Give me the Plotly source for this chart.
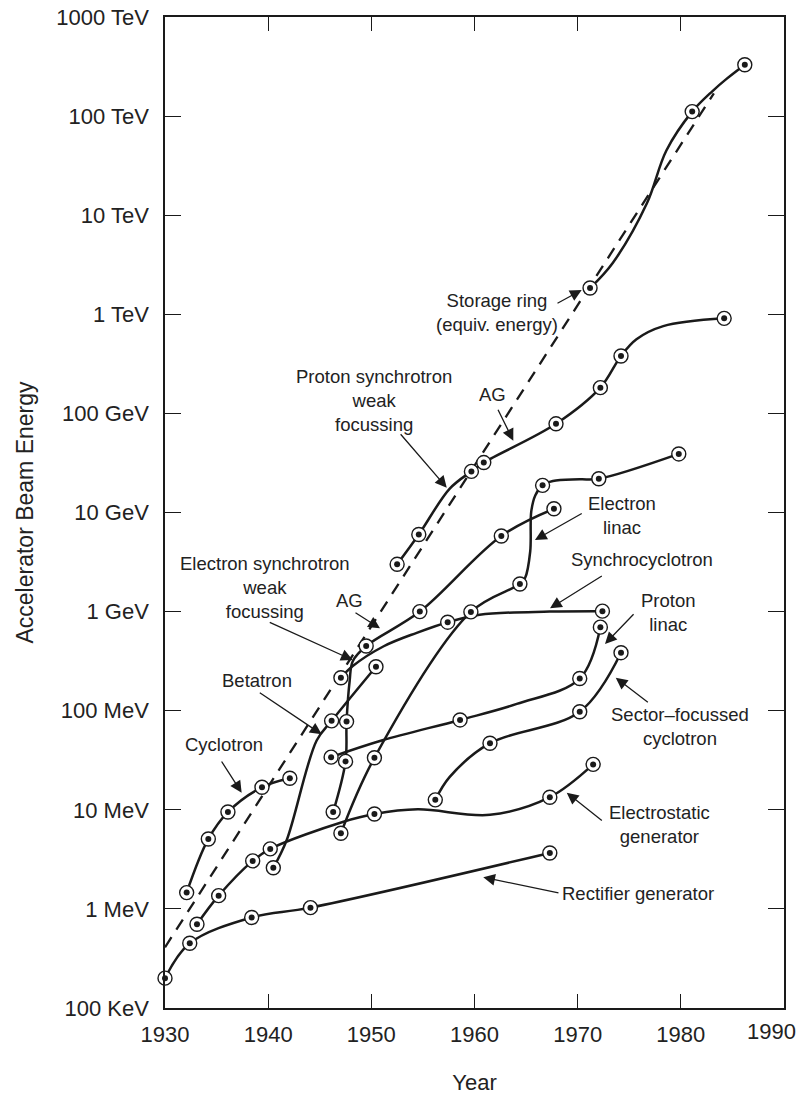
import plotly.graph_objects as go

# ---------------- data (year, beam energy in MeV) ----------------
# Marked points (circles) per accelerator type
rect_year = [1930.0, 1932.4, 1938.4, 1944.1, 1967.3]
rect_mev = [0.2, 0.45, 0.82, 1.03, 3.67]

estat_year = [1933.1, 1935.2, 1938.5, 1940.2, 1950.3, 1967.3, 1971.5]
estat_mev = [0.70, 1.36, 3.05, 4.03, 9.06, 13.4, 28.7]
estat_path_year = [1933.1, 1935.2, 1938.5, 1940.2, 1947.3, 1950.3, 1954.5, 1961.5, 1967.3, 1971.5]
estat_path_mev = [0.70, 1.36, 3.05, 4.03, 7.57, 9.06, 10.1, 8.9, 13.4, 28.7]

cyc_year = [1932.1, 1934.2, 1936.1, 1939.4, 1942.1]
cyc_mev = [1.46, 5.08, 9.5, 16.9, 20.8]

beta_year = [1940.5, 1946.15, 1950.45]
beta_mev = [2.6, 79, 278]
beta_path_year = [1940.5, 1941.8, 1944.7, 1946.15, 1950.45]
beta_path_mev = [2.6, 4.96, 50, 79, 278]

esyn_year = [1946.3, 1947.5, 1947.6, 1949.5, 1954.7, 1962.6, 1967.7]
esyn_mev = [9.5, 30.8, 77.6, 449, 1000, 5800, 10900]
esyn_path_year = [1946.3, 1947.5, 1947.6, 1947.9, 1948.2, 1949.5, 1954.7, 1962.6, 1967.7]
esyn_path_mev = [9.5, 30.8, 77.6, 200, 316, 449, 1000, 5800, 10900]

sync_year = [1947.05, 1957.4, 1972.4]
sync_mev = [215, 782, 1010]
sync_path_year = [1947.05, 1948.2, 1951.2, 1954.4, 1957.4, 1960.5, 1967.3, 1972.4]
sync_path_mev = [215, 282, 447, 611, 782, 930, 1000, 1010]

plin_year = [1946.1, 1958.6, 1970.2, 1972.2]
plin_mev = [34, 80.7, 211, 697]
plin_path_year = [1946.1, 1951.0, 1958.6, 1964.1, 1970.2, 1972.2]
plin_path_mev = [34, 50, 80.7, 117, 211, 697]

sect_year = [1956.2, 1961.5, 1970.2, 1974.2]
sect_mev = [12.6, 47, 97.7, 385]
sect_path_year = [1956.2, 1957.6, 1961.5, 1970.2, 1974.2]
sect_path_mev = [12.6, 21.5, 47, 97.7, 385]

elin_year = [1947.05, 1950.3, 1959.65, 1964.4, 1966.6, 1972.05, 1979.8]
elin_mev = [5.8, 33.5, 993, 1900, 18800, 21900, 39000]
elin_path_year = [1947.05, 1950.3, 1959.65, 1964.4, 1964.9, 1965.4, 1965.5, 1965.9,
                  1966.6, 1967.6, 1970.2, 1972.05, 1979.8]
elin_path_mev = [5.8, 33.5, 993, 1900, 2180, 4040, 10200, 14960,
                 18800, 20800, 21600, 21900, 39000]

psyn_year = [1952.5, 1954.6, 1959.7, 1960.9, 1967.9, 1972.2, 1974.2, 1984.2]
psyn_mev = [3000, 6000, 26000, 31900, 78500, 182000, 380000, 910000]
psyn_path_year = [1952.5, 1954.6, 1957.6, 1959.7, 1960.9, 1967.9, 1972.2, 1974.2,
                  1975.7, 1978.3, 1984.2]
psyn_path_mev = [3000, 6000, 17400, 26000, 31900, 78500, 182000, 380000,
                 560000, 760000, 910000]

ring_year = [1971.2, 1981.1, 1986.2]
ring_mev = [1.84e6, 1.11e8, 3.3e8]
ring_path_year = [1971.2, 1973.4, 1976.7, 1978.6, 1981.1, 1983.1, 1984.4, 1986.2]
ring_path_mev = [1.84e6, 3.3e6, 1.31e7, 4.5e7, 1.11e8, 1.8e8, 2.36e8, 3.3e8]

trend_year = [1930.0, 1983.2]
trend_mev = [0.41, 1.7e8]

x_ticks = [1930, 1940, 1950, 1960, 1970, 1980, 1990]
x_labels = ["1930", "1940", "1950", "1960", "1970", "1980", "1990"]
y_ticks = [0.1, 1, 10, 100, 1e3, 1e4, 1e5, 1e6, 1e7, 1e8, 1e9]
y_labels = ["100 KeV", "1 MeV", "10 MeV", "100 MeV", "1 GeV", "10 GeV",
            "100 GeV", "1 TeV", "10 TeV", "100 TeV", "1000 TeV"]

# ---------------- figure ----------------
INK = "#1a1a1a"
TXT = "#222222"
FONT = "Liberation Sans, Arial, Helvetica, sans-serif"

fig = go.Figure()

fig.add_trace(go.Scatter(
    x=trend_year, y=trend_mev, mode="lines",
    line=dict(color=INK, width=2.3, dash="12px,9px"),
    hoverinfo="skip", showlegend=False))

paths = [
    (rect_year, rect_mev),
    (estat_path_year, estat_path_mev),
    (cyc_year, cyc_mev),
    (beta_path_year, beta_path_mev),
    (esyn_path_year, esyn_path_mev),
    (sync_path_year, sync_path_mev),
    (plin_path_year, plin_path_mev),
    (sect_path_year, sect_path_mev),
    (elin_path_year, elin_path_mev),
    (psyn_path_year, psyn_path_mev),
    (ring_path_year, ring_path_mev),
]
for px_, py_ in paths:
    fig.add_trace(go.Scatter(
        x=px_, y=py_, mode="lines",
        line=dict(color=INK, width=2.5, shape="spline", smoothing=1.0),
        hoverinfo="skip", showlegend=False))

pts = [
    (rect_year, rect_mev), (estat_year, estat_mev), (cyc_year, cyc_mev),
    (beta_year, beta_mev), (esyn_year, esyn_mev), (sync_year, sync_mev),
    (plin_year, plin_mev), (sect_year, sect_mev), (elin_year, elin_mev),
    (psyn_year, psyn_mev), (ring_year, ring_mev),
]
all_x = [v for xs, _ in pts for v in xs]
all_y = [v for _, ys in pts for v in ys]

fig.add_trace(go.Scatter(
    x=all_x, y=all_y, mode="markers", cliponaxis=False,
    marker=dict(symbol="circle", size=14, color="white",
                line=dict(color=INK, width=1.4)),
    hoverinfo="skip", showlegend=False))
fig.add_trace(go.Scatter(
    x=all_x, y=all_y, mode="markers", cliponaxis=False,
    marker=dict(symbol="circle", size=6, color=INK, line=dict(width=0)),
    hoverinfo="skip", showlegend=False))

# ---------------- labels and arrows ----------------
labels = [
    ("Rectifier generator", 1975.85, 0.160),
    ("Electrostatic<br>generator", 1977.98, 0.855),
    ("Sector\u2013focussed<br>cyclotron", 1979.92, 1.838),
    ("Proton<br>linac", 1978.78, 2.991),
    ("Synchrocyclotron", 1976.21, 3.521),
    ("Electron<br>linac", 1974.27, 3.967),
    ("Proton synchrotron<br>weak<br>focussing", 1950.26, 5.135),
    ("AG", 1961.76, 5.186),
    ("Storage ring<br>(equiv. energy)", 1962.15, 6.018),
    ("Electron synchrotron<br>weak<br>focussing", 1939.69, 3.243),
    ("AG", 1947.84, 3.117),
    ("Betatron", 1938.89, 2.303),
    ("Cyclotron", 1935.72, 1.654),
]
# arrow tip (year, log10 MeV) and tail offset in pixels
arrows = [
    (1960.85, 0.319, 76.7, 16.0),
    (1968.94, 1.1726, 36.6, 29.0),
    (1973.69, 2.333, 33.6, 25.6),
    (1972.65, 2.673, 30.0, -31.3),
    (1967.32, 3.033, 53.3, -33.3),
    (1965.86, 3.7225, 48.3, -27.3),
    (1957.31, 4.250, -47.4, -55.0),
    (1963.76, 4.7245, -16.0, -32.4),
    (1970.39, 6.245, -25.7, 14.0),
    (1948.19, 2.5116, -84.4, -38.3),
    (1950.84, 2.831, -26.0, -16.6),
    (1945.19, 1.762, -63.4, -42.6),
    (1937.43, 1.1726, -21.0, -32.7),
]

annotations = []
for text, x, y in labels:
    annotations.append(dict(
        text=text, x=x, y=y, xref="x", yref="y", showarrow=False,
        xanchor="center", yanchor="middle", align="center",
        font=dict(family=FONT, size=18.5, color=TXT)))
for x, y, ax, ay in arrows:
    annotations.append(dict(
        text="", x=x, y=y, xref="x", yref="y", showarrow=True,
        ax=ax, ay=ay, axref="pixel", ayref="pixel",
        arrowhead=2, arrowsize=1.8, arrowwidth=1.3, arrowcolor=INK,
        standoff=0, startstandoff=0))

# last x tick label drawn as text so it stays inside the page (as in the reference)
annotations.append(dict(
    text=x_labels[-1], x=x_ticks[-1], y=0, xref="x", yref="paper",
    showarrow=False, xanchor="right", yanchor="middle", xshift=14, yshift=-23,
    font=dict(family=FONT, size=22, color=TXT)))
axis_labels = x_labels[:-1] + [""]

fig.update_layout(
    width=804, height=1095, autosize=False,
    margin=dict(l=165, r=20, t=17, b=87, autoexpand=False),
    paper_bgcolor="white", plot_bgcolor="white",
    font=dict(family=FONT, color=TXT),
    showlegend=False,
    annotations=annotations,
    xaxis=dict(
        range=[1930, 1990], tickvals=x_ticks, ticktext=axis_labels,
        ticks="inside", ticklen=14, tickwidth=1.4, tickcolor=INK,
        showline=True, linecolor=INK, linewidth=1.5, mirror="ticks",
        showgrid=False, zeroline=False, ticklabelstandoff=6,
        ticklabeloverflow="allow", automargin=False,
        tickfont=dict(family=FONT, size=22, color=TXT),
        title=dict(text="Year", font=dict(family=FONT, size=22, color=TXT), standoff=34),
    ),
    yaxis=dict(
        type="log", range=[-1, 9], tickvals=y_ticks, ticktext=y_labels,
        ticks="inside", ticklen=16, tickwidth=1.4, tickcolor=INK,
        showline=True, linecolor=INK, linewidth=1.5, mirror="ticks",
        showgrid=False, zeroline=False, ticklabelstandoff=10,
        ticklabeloverflow="allow", automargin=False,
        tickfont=dict(family=FONT, size=22, color=TXT),
        title=dict(text="Accelerator Beam Energy",
                   font=dict(family=FONT, size=23, color=TXT), standoff=16),
    ),
)

fig.write_html("out.html")
